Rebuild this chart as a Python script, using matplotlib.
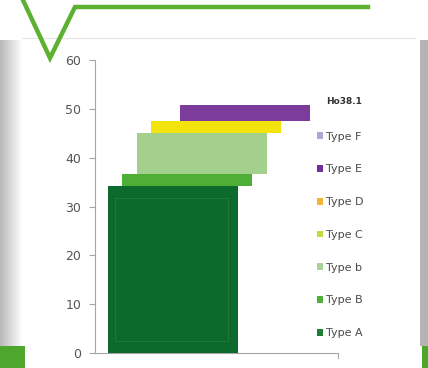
import matplotlib.pyplot as plt
import numpy as np
from matplotlib.patches import Patch, Rectangle
from matplotlib.lines import Line2D

# data
series = ["Type A", "Type B", "Type b", "Type C", "Type D", "Type E", "Type F"]
values = [34.2, 2.5, 8.4, 2.4, 0.0, 3.3, 0.0]
yticks = [0, 10, 20, 30, 40, 50, 60]
title = "Ho38.1"

bar_colors = ["#0b6a2c", "#4fae35", "#a3d08c", "#f2e40c", "#f0b030", "#7c3c9c", "#a9a9d4"]
legend_colors = ["#1f7d34", "#52b13c", "#a8d49a", "#c6d843", "#f2b33a", "#6f2f9c", "#a9a9d4"]

W, H = 428, 368
fig = plt.figure(figsize=(W / 100, H / 100), dpi=100)
fig.patch.set_facecolor("white")

# background decoration (panel shadows, green bits)
def px_rect(x0, y0, x1, y1, **kw):
    fig.add_artist(Rectangle((x0 / W, 1 - y1 / H), (x1 - x0) / W, (y1 - y0) / H,
                             transform=fig.transFigure, **kw))

for i in range(22):
    g = 0.72 + 0.28 * i / 22
    px_rect(i, 40, i + 1, 346, facecolor=(g, g, g), edgecolor="none", zorder=0)
px_rect(420, 40, 428, 346, facecolor="#b4b4b4", edgecolor="none", zorder=0)
px_rect(0, 346, 25, 368, facecolor="#4ea62c", edgecolor="none", zorder=0)
px_rect(422, 346, 428, 368, facecolor="#4ea62c", edgecolor="none", zorder=0)
fig.add_artist(Line2D(np.array([22, 415]) / W, 1 - np.array([38, 38]) / H,
                      color="#e6e6e6", lw=0.8, transform=fig.transFigure))
# green check line at the top
lx = np.array([22, 50, 75, 368])
ly = np.array([-2, 58, 7, 7])
fig.add_artist(Line2D(lx / W, 1 - ly / H, color="#5cb130", lw=3.2,
                      solid_joinstyle="miter", transform=fig.transFigure, zorder=5))

ax = fig.add_axes([95 / W, 15 / H, 243 / W, 293 / H])
ax.set_facecolor("none")

bottoms = np.concatenate([[0], np.cumsum(values)[:-1]])
width = 0.535
step = 0.0595
for i, (name, v) in enumerate(zip(series, values)):
    if v <= 0:
        continue
    ax.bar(0.053 + i * step, v, width=width, bottom=bottoms[i], align="edge",
           color=bar_colors[i], edgecolor="none", zorder=3 + i)
# faint inner frame on the big bar
ax.add_patch(Rectangle((0.053 + 0.5 * step, 2.5), width - 1.2 * step, bottoms[1] - 5,
                       fill=False, edgecolor="#227a38", lw=0.6, zorder=10))

ax.set_xlim(0, 1)
ax.set_ylim(0, 60)
ax.set_yticks(yticks)
ax.set_xticks([])
for s in ["top", "right"]:
    ax.spines[s].set_visible(False)
ax.spines["left"].set_color("#a6a6a6")
ax.spines["bottom"].set_color("#a6a6a6")
ax.tick_params(axis="y", colors="#a6a6a6", length=4, width=0.8, pad=6,
               labelcolor="#555555", labelsize=9)
ax.plot([1, 1], [0, -1.0], color="#a6a6a6", lw=0.8, clip_on=False)

handles = [Patch(facecolor=c, edgecolor="none") for c in legend_colors][::-1]
fig.legend(handles, series[::-1], loc="upper left",
           bbox_to_anchor=(311 / W, 1 - 126 / H), frameon=False, fontsize=8,
           labelcolor="#4a4a4a", handlelength=0.55, handleheight=0.55,
           handletextpad=0.3, labelspacing=2.05, borderpad=0)
fig.text(326 / W, 1 - 101 / H, title, fontsize=6.5, fontweight="bold",
         color="#333333", va="center")

fig.savefig("out.png", dpi=100)
